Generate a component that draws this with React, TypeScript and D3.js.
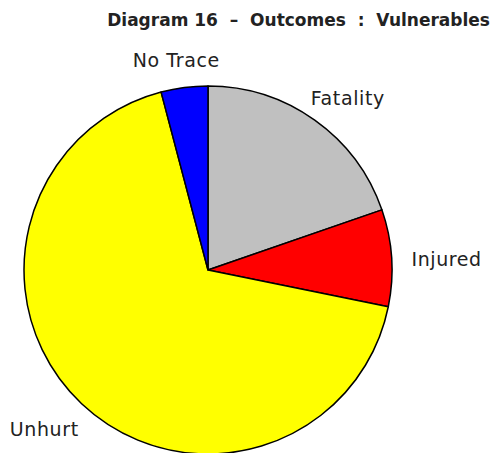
import React, { useEffect, useRef } from "react";
import * as d3 from "d3";

const categories = ["Fatality", "Injured", "Unhurt", "No Trace"];
const values = [19.7, 8.5, 67.7, 4.1];
const colors = ["#c0c0c0", "#ff0000", "#ffff00", "#0000ff"];
const title = "Diagram 16  –  Outcomes  :  Vulnerables";

const W = 493;
const H = 453;

export default function App() {
  const ref = useRef<SVGSVGElement>(null);
  useEffect(() => {
    const svg = d3.select(ref.current);
    svg.selectAll("*").remove();
    const cx = 208, cy = 270, r = 184;
    const data = categories.map((c, i) => ({ c, v: values[i], col: colors[i] }));
    const pie = d3.pie<any>().sort(null).value((d) => d.v);
    const arcs = pie(data);
    const arc = d3.arc<any>().innerRadius(0).outerRadius(r);
    const g = svg.append("g").attr("transform", `translate(${cx},${cy})`);
    g.selectAll("path")
      .data(arcs)
      .join("path")
      .attr("d", arc as any)
      .attr("fill", (d: any) => d.data.col)
      .attr("stroke", "#000")
      .attr("stroke-width", 1.5)
      .attr("stroke-linejoin", "round");

    const lr = 204;
    arcs.forEach((a: any) => {
      const th = (a.startAngle + a.endAngle) / 2;
      const px = lr * Math.sin(th);
      const py = -lr * Math.cos(th);
      const t = g.append("text")
        .attr("font-family", "'DejaVu Sans', sans-serif")
        .attr("font-size", 19)
        .attr("letter-spacing", 0.6)
        .attr("fill", "#222")
        .attr("text-anchor", "middle")
        .attr("dominant-baseline", "central")
        .text(a.data.c);
      const bb = (t.node() as SVGTextElement).getBBox();
      const x = px + (bb.width / 2) * Math.sin(th);
      const y = py - (bb.height / 2) * Math.cos(th) + 3;
      t.attr("x", x).attr("y", y);
    });

    svg.append("text")
      .attr("x", 490)
      .attr("y", 26)
      .attr("text-anchor", "end")
      .attr("font-family", "'DejaVu Sans', sans-serif")
      .attr("font-weight", "bold")
      .attr("font-size", 17)
      .attr("fill", "#222")
      .style("white-space", "pre")
      .text(title);
  }, []);
  return (
    <svg ref={ref} width={W} height={H} style={{ position: "absolute", left: 0, top: 0, background: "#fff" }} />
  );
}
